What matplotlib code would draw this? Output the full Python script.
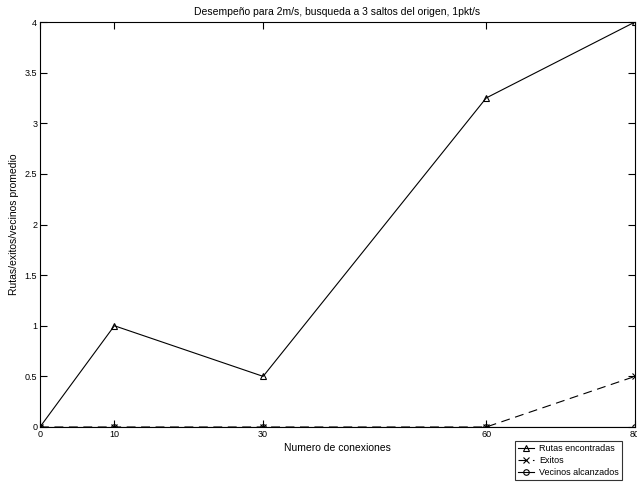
import matplotlib

matplotlib.use('Agg')
import matplotlib.pyplot as plt

plt.rcParams['font.family'] = ['Liberation Sans', 'DejaVu Sans']

conexiones = [0, 10, 30, 60, 80]
rutas = [0, 1, 0.5, 3.25, 4]
exitos = [0, 0, 0, 0, 0.5]
vecinos = [0, 0, 0, 0, 0]
yticks = [0, 0.5, 1, 1.5, 2, 2.5, 3, 3.5, 4]

fig = plt.figure(figsize=(6.37, 4.82), dpi=100)
ax = fig.add_axes([40 / 637, 1 - 427 / 482, 595 / 637, 405 / 482])

ax.plot(conexiones, rutas, color='black', lw=0.8, marker='^', ms=5,
        mfc='none', mew=0.8, label='Rutas encontradas')
ax.plot(conexiones, exitos, color='black', lw=0.8, ls=(0, (8, 5)), marker='x',
        ms=4, mew=0.8, label='Exitos')
ax.plot(conexiones, vecinos, color='black', lw=0.8, marker='o', ms=4,
        mfc='none', mew=0.8, label='Vecinos alcanzados')

ax.set_xlim(0, 80)
ax.set_ylim(0, 4)
ax.set_xticks(conexiones)
ax.set_yticks(yticks)
ax.set_yticklabels([f'{v:g}' for v in yticks])
ax.tick_params(direction='in', length=5, width=0.8, labelsize=6.5,
               top=True, right=True, pad=2)
for s in ax.spines.values():
    s.set_linewidth(0.8)

ax.set_title('Desempeño para 2m/s, busqueda a 3 saltos del origen, 1pkt/s',
             fontsize=7.5, pad=5)
ax.set_xlabel('Numero de conexiones', fontsize=7.5, labelpad=3)
ax.set_ylabel('Rutas/exitos/vecinos promedio', fontsize=7.5, labelpad=4)

leg = fig.legend(loc='lower left', bbox_to_anchor=(513 / 637, 0.0),
                 fontsize=6.5, frameon=True, fancybox=False, handlelength=1.8,
                 borderpad=0.3, labelspacing=0.35, handletextpad=0.6,
                 borderaxespad=0.2)
leg.get_frame().set_edgecolor('black')
leg.get_frame().set_linewidth(0.8)

fig.savefig('out.png', dpi=100)
